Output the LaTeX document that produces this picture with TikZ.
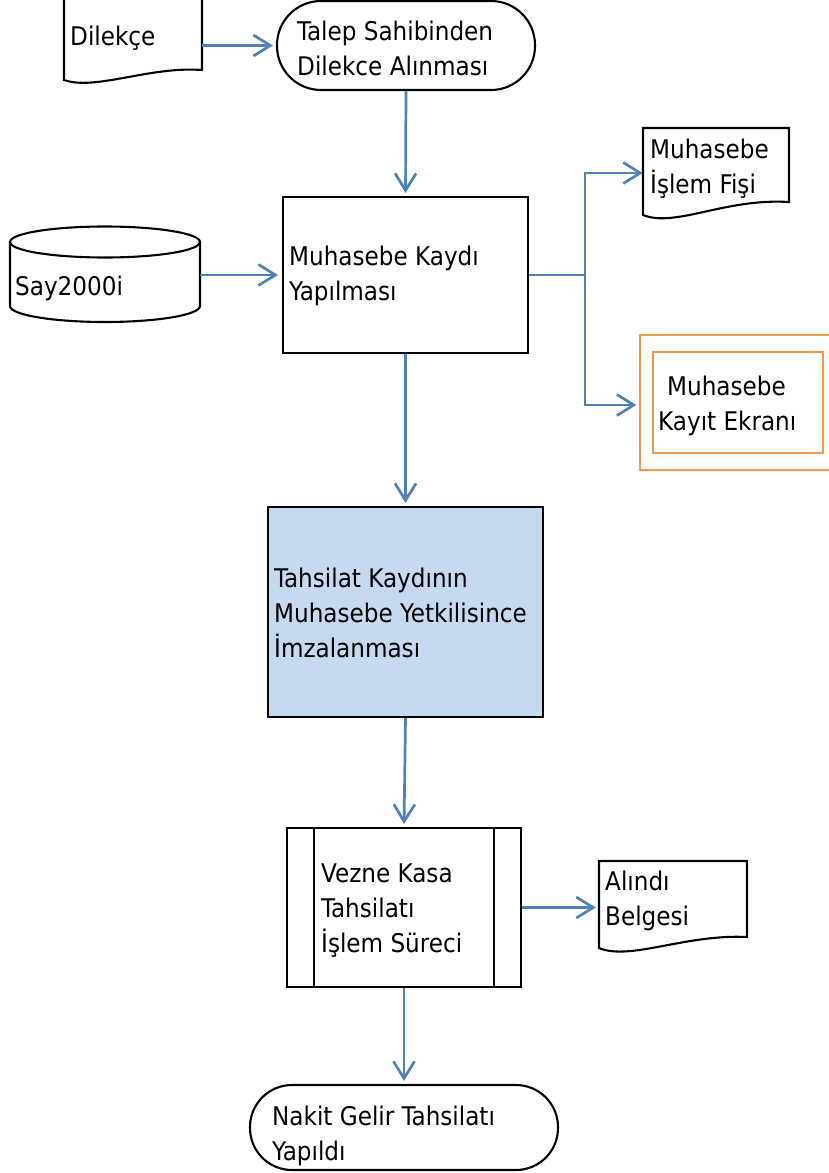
\documentclass[tikz,border=0pt]{standalone}
\usepackage{fontspec}
\setmainfont{DejaVu Sans Condensed}
\usetikzlibrary{arrows.meta,calc}
\definecolor{arrowblue}{HTML}{4F81BD}
\definecolor{boxfill}{HTML}{C6D9F1}
\definecolor{orangeline}{HTML}{F79646}
\begin{document}
\begin{tikzpicture}[x=1pt,y=-1pt,
  shapeline/.style={draw=black,line width=2.1pt},
  box/.style={shapeline,rectangle,inner sep=0pt},
  ghost/.style={rectangle,inner sep=0pt},
  conn/.style={draw=arrowblue,line width=2.7pt,
    -{Straight Barb[length=17pt,width=21pt,line width=2.7pt]}},
  link/.style={draw=arrowblue,line width=2.7pt},
  txt/.style={anchor=base west,inner sep=0pt,align=left,
    font=\fontsize{25.7}{35}\selectfont}]
\useasboundingbox (0,0) rectangle (828,1173);

% ---- Dilekce (document)
\draw[shapeline] (202,-5) -- (202,70) .. controls (150,66) and (95,91) .. (64,80) -- (64,-5);
\node[ghost,minimum width=138pt,minimum height=85pt] (dil) at (133,40) {};
\node[txt] (tdil) at (70,45) {Dilekçe};

% ---- Talep Sahibinden (terminator)
\node[box,rounded corners=44pt,minimum width=258pt,minimum height=89pt] (talep) at (406,45.5) {};
\node[txt] (ttalep) at (297,75) {Talep Sahibinden\\Dilekce Alınması};

% ---- Say2000i (database)
\draw[shapeline] (10,242) -- (10,306) arc[start angle=180,end angle=360,x radius=95pt,y radius=16pt] -- (200,242);
\draw[shapeline] (105,242) ellipse[x radius=95pt,y radius=15.5pt];
\node[ghost,minimum width=190pt,minimum height=96pt] (cyl) at (105,274) {};
\node[txt] (tcyl) at (15,295) {Say2000i};

% ---- Muhasebe Kaydi
\node[box,minimum width=245pt,minimum height=156pt] (muh) at (405.5,275) {};
\node[txt] (tmuh) at (289,300) {Muhasebe Kaydı\\Yapılması};

% ---- Muhasebe Islem Fisi (document)
\draw[shapeline] (643,128) -- (643,215) .. controls (675,228) and (725,198) .. (789,202) -- (789,128) -- cycle;
\node[ghost,minimum width=146pt,minimum height=90pt] (fis) at (716,173) {};
\node[txt] (tfis) at (650,193) {Muhasebe\\İşlem Fişi};

% ---- Muhasebe Kayit Ekrani (orange double frame)
\node[rectangle,draw=orangeline,line width=1.2pt,inner sep=0pt,minimum width=192pt,minimum height=135pt] (ekran) at (736,402.5) {};
\node[rectangle,draw=orangeline,line width=1.2pt,inner sep=0pt,minimum width=170pt,minimum height=101pt] (ekranin) at (738,402.5) {};
\node[txt] (tek1) at (667,395) {Muhasebe};
\node[txt] (tek2) at (658,430) {Kayıt Ekranı};

% ---- Tahsilat Kaydinin
\node[box,fill=boxfill,minimum width=275pt,minimum height=210pt] (tah) at (405.5,612) {};
\node[txt] (ttah) at (274,657) {Tahsilat Kaydının\\Muhasebe Yetkilisince\\İmzalanması};

% ---- Vezne Kasa (predefined process)
\node[box,minimum width=234pt,minimum height=159pt] (pp) at (404,907.5) {};
\draw[shapeline] ([xshift=28pt]pp.north west) -- ([xshift=28pt]pp.south west);
\draw[shapeline] ([xshift=-28pt]pp.north east) -- ([xshift=-28pt]pp.south east);
\node[txt] (tpp) at (321,952) {Vezne Kasa\\Tahsilatı\\İşlem Süreci};

% ---- Alindi Belgesi (document)
\draw[shapeline] (599,861) -- (599,948) .. controls (630,961) and (685,934) .. (747,937) -- (747,861) -- cycle;
\node[ghost,minimum width=148pt,minimum height=90pt] (alindi) at (673,906) {};
\node[txt] (talindi) at (605,925) {Alındı\\Belgesi};

% ---- Nakit Gelir (terminator)
\node[box,rounded corners=42pt,minimum width=308pt,minimum height=85pt] (son) at (404,1127.5) {};
\node[txt] (tson) at (272,1160) {Nakit Gelir Tahsilatı\\Yapıldı};

% ---- connectors
\coordinate (split) at (585,275);
\draw[conn,shorten >=3pt] (talep.west -| dil.east) -- (talep.west);
\draw[conn,shorten >=3pt] (talep.south) -- (muh.north);
\draw[conn,shorten >=4pt] (muh.west -| cyl.east) -- (muh.west);
\draw[link] (muh.east) -- (split);
\draw[conn] (split) |- (fis.west);
\draw[conn,shorten >=3pt] (split) |- (ekran.west |- 0,405);
\draw[conn,shorten >=3pt] (muh.south) -- (tah.north);
\draw[conn,shorten >=3pt] (tah.south) -- (pp.north);
\draw[conn,shorten >=3pt] (pp.east) -- (pp.east -| alindi.west);
\draw[conn,shorten >=3pt] (pp.south) -- (son.north);
\end{tikzpicture}
\end{document}
